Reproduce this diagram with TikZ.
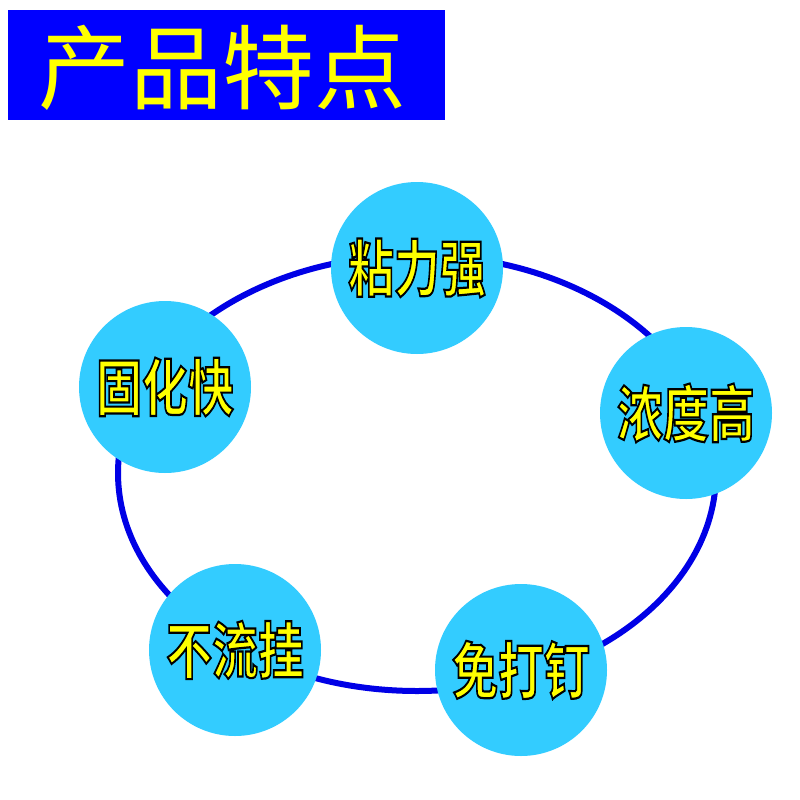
\documentclass[tikz,border=0pt]{standalone}
\usepackage{fontspec}
\newfontfamily\cjk{Noto Sans CJK SC}[BoldFont=* Bold]
\definecolor{ttlblue}{RGB}{0,0,255}
\definecolor{cyanfill}{RGB}{51,204,255}
\definecolor{ringblue}{RGB}{0,0,230}
\definecolor{txtyellow}{RGB}{255,255,0}
\newcommand{\stroked}[1]{\special{pdf:literal direct q 2 Tr 2.2 w 0 0 0 RG 1 1 0 rg}#1\special{pdf:literal direct Q}}
\begin{document}
\begin{tikzpicture}[x=1pt,y=-1pt,
  feat/.style={circle,fill=cyanfill,minimum size=172pt,inner sep=0pt},
  lbl/.style={font=\cjk\bfseries\fontsize{62}{62}\selectfont,xscale=0.74,inner sep=0pt,text=txtyellow}]
\useasboundingbox (0,0) rectangle (800,800);
\fill[white] (0,0) rectangle (800,800);
\node[fill=ttlblue,minimum width=437pt,minimum height=110pt,anchor=north west,inner sep=0pt] (title) at (8,10) {};
\node[text=txtyellow,font=\cjk\fontsize{92}{92}\selectfont,inner sep=0pt] (tt) at (222,68) {产品特点};
\draw[ringblue,line width=6pt] (417,473) ellipse [x radius=299, y radius=218];
\foreach \n/\x/\y/\t in {a/417/268/粘力强,b/686/413/浓度高,c/521/670/免打钉,d/235/650/不流挂,e/165/387/固化快}{
  \node[feat] (\n) at (\x,\y) {};
  \node[lbl] (\n t) at (\x,\y) {\stroked{\t}};
}
\end{tikzpicture}
\end{document}
